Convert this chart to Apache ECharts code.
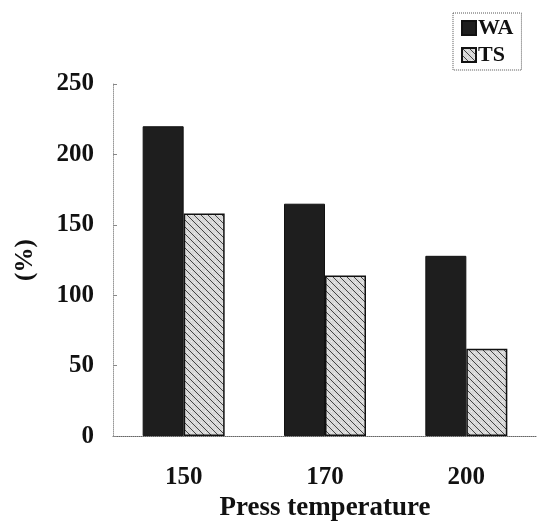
<!DOCTYPE html>
<html>
<head>
<meta charset="utf-8">
<script src="https://cdn.jsdelivr.net/npm/echarts@6/dist/echarts.min.js"></script>
<style>
html,body{margin:0;padding:0;background:#fff;overflow:hidden;}
#main{width:537px;height:527px;}
</style>
</head>
<body>
<div id="main"></div>
<script>
var categories = ['150', '170', '200'];
var waValues = [220, 165, 128];
var tsValues = [158, 114, 62];
var yTicks = [0, 50, 100, 150, 200, 250];

function makeHatch() {
  var c = document.createElement('canvas');
  c.width = 7; c.height = 7;
  var g = c.getContext('2d');
  g.fillStyle = '#d8d8d8';
  g.fillRect(0, 0, 7, 7);
  g.fillStyle = '#eeeeee';
  g.fillRect(2, 5, 1, 1);
  g.fillRect(5, 2, 1, 1);
  g.strokeStyle = '#444';
  g.lineWidth = 1;
  g.beginPath();
  g.moveTo(-1, -1); g.lineTo(8, 8);
  g.moveTo(-1, 6); g.lineTo(1, 8);
  g.moveTo(6, -1); g.lineTo(8, 1);
  g.stroke();
  return c;
}

var serif = '"Liberation Serif", "Times New Roman", serif';
var chart = echarts.init(document.getElementById('main'), null, {renderer: 'canvas', width: 537, height: 527});
chart.setOption({
  backgroundColor: '#ffffff',
  animation: false,
  legend: {
    orient: 'vertical',
    left: 453,
    top: 13,
    padding: [4, 8, 4, 8],
    itemGap: 5,
    itemWidth: 14,
    itemHeight: 14,
    borderColor: '#555',
    borderWidth: 1,
    borderType: 'dotted',
    textStyle: {fontFamily: serif, fontWeight: 'bold', fontSize: 22, color: '#111', padding: [0, 0, 0, -3]},
    data: [{name: 'WA', icon: 'rect'}, {name: 'TS', icon: 'rect'}]
  },
  grid: {left: 113, width: 429, top: 84, bottom: 85, containLabel: false},
  xAxis: {
    type: 'category',
    data: categories,
    name: 'Press temperature',
    nameLocation: 'middle',
    nameGap: 58,
    nameTextStyle: {fontFamily: serif, fontWeight: 'bold', fontSize: 27, color: '#111'},
    axisLine: {show: true, lineStyle: {color: '#666', width: 1, type: 'dotted'}},
    axisTick: {show: false},
    axisLabel: {fontFamily: serif, fontWeight: 'bold', fontSize: 25, color: '#111', margin: 29}
  },
  yAxis: {
    type: 'value',
    min: yTicks[0],
    max: yTicks[yTicks.length - 1],
    interval: yTicks[1] - yTicks[0],
    name: '(%)',
    nameLocation: 'middle',
    nameGap: 75,
    nameRotate: 90,
    nameTextStyle: {fontFamily: serif, fontWeight: 'bold', fontSize: 25, color: '#111'},
    axisLine: {show: true, lineStyle: {color: '#999', width: 1, type: 'dotted'}},
    axisTick: {show: true, inside: true, length: 4, lineStyle: {color: '#888'}},
    splitLine: {show: false},
    axisLabel: {fontFamily: serif, fontWeight: 'bold', fontSize: 25, color: '#111', margin: 19}
  },
  series: [
    {
      name: 'WA',
      type: 'bar',
      data: waValues,
      barWidth: 41,
      barGap: '0%',
      itemStyle: {color: '#1e1e1e', borderColor: '#111', borderWidth: 1}
    },
    {
      name: 'TS',
      type: 'bar',
      data: tsValues,
      barWidth: 41,
      itemStyle: {color: {image: makeHatch(), repeat: 'repeat'}, borderColor: '#111', borderWidth: 1.5}
    }
  ]
});
</script>
</body>
</html>
